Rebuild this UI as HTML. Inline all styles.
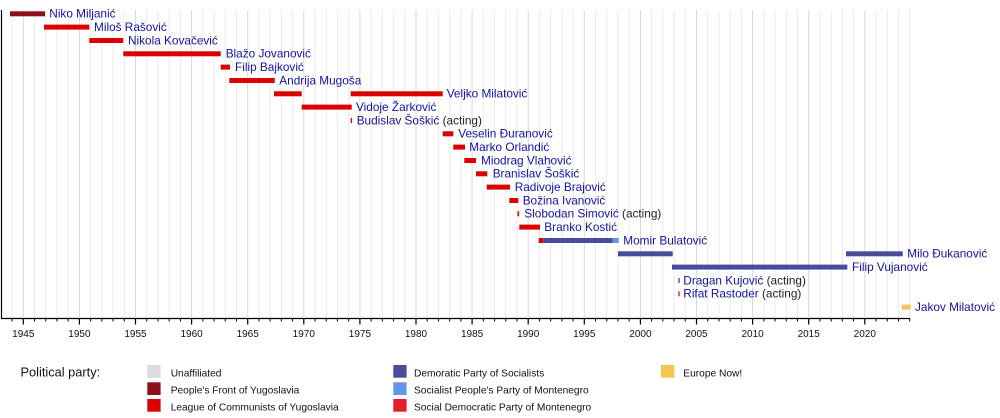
<!DOCTYPE html>
<html>
<head>
<meta charset="utf-8">
<style>
html,body{margin:0;padding:0;background:#fff;}
svg{display:block;}
text{font-family:"Liberation Sans",Arial,sans-serif;}
.l{font-size:11.8px;fill:#1212a6;}
.a{fill:#222;}
.t{font-size:10px;fill:#111;text-anchor:middle;}
.g{font-size:10.2px;fill:#111;}
</style>
</head>
<body>
<svg width="1000" height="418" viewBox="0 0 1000 418" xmlns="http://www.w3.org/2000/svg">
<rect width="1000" height="418" fill="#fff"/>
<path fill="none" stroke="#ebebeb" stroke-width="1" d="M12.08 10V317M34.52 10V317M45.74 10V317M56.96 10V317M68.18 10V317M90.62 10V317M101.84 10V317M113.06 10V317M124.28 10V317M146.72 10V317M157.94 10V317M169.16 10V317M180.38 10V317M202.82 10V317M214.04 10V317M225.26 10V317M236.48 10V317M258.92 10V317M270.14 10V317M281.36 10V317M292.58 10V317M315.02 10V317M326.24 10V317M337.46 10V317M348.68 10V317M371.12 10V317M382.34 10V317M393.56 10V317M404.78 10V317M427.22 10V317M438.44 10V317M449.66 10V317M460.88 10V317M483.32 10V317M494.54 10V317M505.76 10V317M516.98 10V317M539.42 10V317M550.64 10V317M561.86 10V317M573.08 10V317M595.52 10V317M606.74 10V317M617.96 10V317M629.18 10V317M651.62 10V317M662.84 10V317M674.06 10V317M685.28 10V317M707.72 10V317M718.94 10V317M730.16 10V317M741.38 10V317M763.82 10V317M775.04 10V317M786.26 10V317M797.48 10V317M819.92 10V317M831.14 10V317M842.36 10V317M853.58 10V317M876.02 10V317M887.24 10V317M898.46 10V317M909.68 10V317"/>
<path fill="none" stroke="#d9d9d9" stroke-width="1" d="M23.3 10V317M79.4 10V317M135.5 10V317M191.6 10V317M247.7 10V317M303.8 10V317M359.9 10V317M416 10V317M472.1 10V317M528.2 10V317M584.3 10V317M640.4 10V317M696.5 10V317M752.6 10V317M808.7 10V317M864.8 10V317"/>
<path fill="none" stroke="#000" stroke-width="1.2" d="M1.5 10V318.5H910"/>
<path fill="none" stroke="#000" stroke-width="1" d="M12.08 318V321.5M34.52 318V321.5M45.74 318V321.5M56.96 318V321.5M68.18 318V321.5M90.62 318V321.5M101.84 318V321.5M113.06 318V321.5M124.28 318V321.5M146.72 318V321.5M157.94 318V321.5M169.16 318V321.5M180.38 318V321.5M202.82 318V321.5M214.04 318V321.5M225.26 318V321.5M236.48 318V321.5M258.92 318V321.5M270.14 318V321.5M281.36 318V321.5M292.58 318V321.5M315.02 318V321.5M326.24 318V321.5M337.46 318V321.5M348.68 318V321.5M371.12 318V321.5M382.34 318V321.5M393.56 318V321.5M404.78 318V321.5M427.22 318V321.5M438.44 318V321.5M449.66 318V321.5M460.88 318V321.5M483.32 318V321.5M494.54 318V321.5M505.76 318V321.5M516.98 318V321.5M539.42 318V321.5M550.64 318V321.5M561.86 318V321.5M573.08 318V321.5M595.52 318V321.5M606.74 318V321.5M617.96 318V321.5M629.18 318V321.5M651.62 318V321.5M662.84 318V321.5M674.06 318V321.5M685.28 318V321.5M707.72 318V321.5M718.94 318V321.5M730.16 318V321.5M741.38 318V321.5M763.82 318V321.5M775.04 318V321.5M786.26 318V321.5M797.48 318V321.5M819.92 318V321.5M831.14 318V321.5M842.36 318V321.5M853.58 318V321.5M876.02 318V321.5M887.24 318V321.5M898.46 318V321.5M909.68 318V321.5"/>
<path fill="none" stroke="#000" stroke-width="1.2" d="M23.3 318V324.5M79.4 318V324.5M135.5 318V324.5M191.6 318V324.5M247.7 318V324.5M303.8 318V324.5M359.9 318V324.5M416 318V324.5M472.1 318V324.5M528.2 318V324.5M584.3 318V324.5M640.4 318V324.5M696.5 318V324.5M752.6 318V324.5M808.7 318V324.5M864.8 318V324.5"/>
<text class="t" x="23.3" y="337">1945</text>
<text class="t" x="79.4" y="337">1950</text>
<text class="t" x="135.5" y="337">1955</text>
<text class="t" x="191.6" y="337">1960</text>
<text class="t" x="247.7" y="337">1965</text>
<text class="t" x="303.8" y="337">1970</text>
<text class="t" x="359.9" y="337">1975</text>
<text class="t" x="416" y="337">1980</text>
<text class="t" x="472.1" y="337">1985</text>
<text class="t" x="528.2" y="337">1990</text>
<text class="t" x="584.3" y="337">1995</text>
<text class="t" x="640.4" y="337">2000</text>
<text class="t" x="696.5" y="337">2005</text>
<text class="t" x="752.6" y="337">2010</text>
<text class="t" x="808.7" y="337">2015</text>
<text class="t" x="864.8" y="337">2020</text>

<g>
<rect x="10" y="11.3" width="35" height="5" fill="#8e0f1c"/>
<rect x="44" y="24.6" width="45.3" height="5" fill="#dd0000"/>
<rect x="89.3" y="38" width="34" height="5" fill="#dd0000"/>
<rect x="123.3" y="51.3" width="97.4" height="5" fill="#dd0000"/>
<rect x="220.7" y="64.6" width="9.3" height="5" fill="#dd0000"/>
<rect x="229.3" y="78" width="45.4" height="5" fill="#dd0000"/>
<rect x="274" y="91.3" width="27.7" height="5" fill="#dd0000"/>
<rect x="350.7" y="91.3" width="92" height="5" fill="#dd0000"/>
<rect x="301.7" y="104.6" width="50" height="5" fill="#dd0000"/>
<rect x="350.7" y="118" width="1.4" height="5" fill="#dd0000"/>
<rect x="442.7" y="131.3" width="10.6" height="5" fill="#dd0000"/>
<rect x="453.3" y="144.6" width="11.7" height="5" fill="#dd0000"/>
<rect x="464.3" y="158" width="11.7" height="5" fill="#dd0000"/>
<rect x="476" y="171.3" width="11.3" height="5" fill="#dd0000"/>
<rect x="486.7" y="184.6" width="23.3" height="5" fill="#dd0000"/>
<rect x="509.3" y="198" width="9" height="5" fill="#dd0000"/>
<rect x="517.5" y="211.3" width="1.6" height="5" fill="#dd0000"/>
<rect x="519.3" y="224.6" width="20.7" height="5" fill="#dd0000"/>
<rect x="538.7" y="238" width="4.6" height="5" fill="#dd0000"/>
<rect x="543.3" y="238" width="69.4" height="5" fill="#4b4b9d"/>
<rect x="612.7" y="238" width="6" height="5" fill="#6496e8"/>
<rect x="618" y="251.3" width="54.7" height="5" fill="#4b4b9d"/>
<rect x="846" y="251.3" width="56.7" height="5" fill="#4b4b9d"/>
<rect x="672" y="264.6" width="175.3" height="5" fill="#4b4b9d"/>
<rect x="678.3" y="278" width="1.4" height="5" fill="#4b4b9d"/>
<rect x="678.3" y="291.3" width="1.4" height="5" fill="#e3202a"/>
<rect x="902" y="304.6" width="8.7" height="5" fill="#f0c850"/>
</g>

<text class="l" x="49.3" y="17.6">Niko Miljanić</text>
<text class="l" x="94" y="30.9">Miloš Rašović</text>
<text class="l" x="128" y="44.3">Nikola Kovačević</text>
<text class="l" x="225.7" y="57.6">Blažo Jovanović</text>
<text class="l" x="235" y="70.9">Filip Bajković</text>
<text class="l" x="279.3" y="84.3">Andrija Mugoša</text>
<text class="l" x="446.7" y="97.6">Veljko Milatović</text>
<text class="l" x="356" y="110.9">Vidoje Žarković</text>
<text class="l" x="356.7" y="124.3">Budislav Šoškić <tspan class="a">(acting)</tspan></text>
<text class="l" x="458.3" y="137.6">Veselin Đuranović</text>
<text class="l" x="469.3" y="150.9">Marko Orlandić</text>
<text class="l" x="481" y="164.3">Miodrag Vlahović</text>
<text class="l" x="492.7" y="177.6">Branislav Šoškić</text>
<text class="l" x="514.7" y="190.9">Radivoje Brajović</text>
<text class="l" x="522.7" y="204.3">Božina Ivanović</text>
<text class="l" x="524.3" y="217.6">Slobodan Simović <tspan class="a">(acting)</tspan></text>
<text class="l" x="544.3" y="230.9">Branko Kostić</text>
<text class="l" x="623.3" y="244.3">Momir Bulatović</text>
<text class="l" x="907.3" y="257.6">Milo Đukanović</text>
<text class="l" x="852" y="270.9">Filip Vujanović</text>
<text class="l" x="683.3" y="284.3">Dragan Kujović <tspan class="a">(acting)</tspan></text>
<text class="l" x="683.3" y="297.6">Rifat Rastoder <tspan class="a">(acting)</tspan></text>
<text class="l" x="915" y="310.9">Jakov Milatović</text>

<text x="20.5" y="376.3" style="font-size:12.8px;fill:#111;">Political party:</text>
<rect x="147.3" y="365" width="13.3" height="12.7" fill="#dcdcdc"/>
<rect x="147.3" y="382.3" width="13.3" height="12.7" fill="#8e0f1c"/>
<rect x="147.3" y="399" width="13.3" height="12.7" fill="#dd0000"/>
<text class="g" x="170.7" y="376.3">Unaffiliated</text>
<text class="g" x="170.7" y="393.3">People's Front of Yugoslavia</text>
<text class="g" x="170.7" y="410.3">League of Communists of Yugoslavia</text>
<rect x="393.3" y="365" width="13.3" height="12.7" fill="#4b4b9d"/>
<rect x="393.3" y="382.3" width="13.3" height="12.7" fill="#6496e8"/>
<rect x="393.3" y="399" width="13.3" height="12.7" fill="#e3202a"/>
<text class="g" x="414" y="376.3">Demoratic Party of Socialists</text>
<text class="g" x="414" y="393.3">Socialist People's Party of Montenegro</text>
<text class="g" x="414" y="410.3">Social Democratic Party of Montenegro</text>
<rect x="661" y="365" width="13.3" height="12.7" fill="#f0c850"/>
<text class="g" x="683.3" y="376.3">Europe Now!</text>
</svg>
</body>
</html>
